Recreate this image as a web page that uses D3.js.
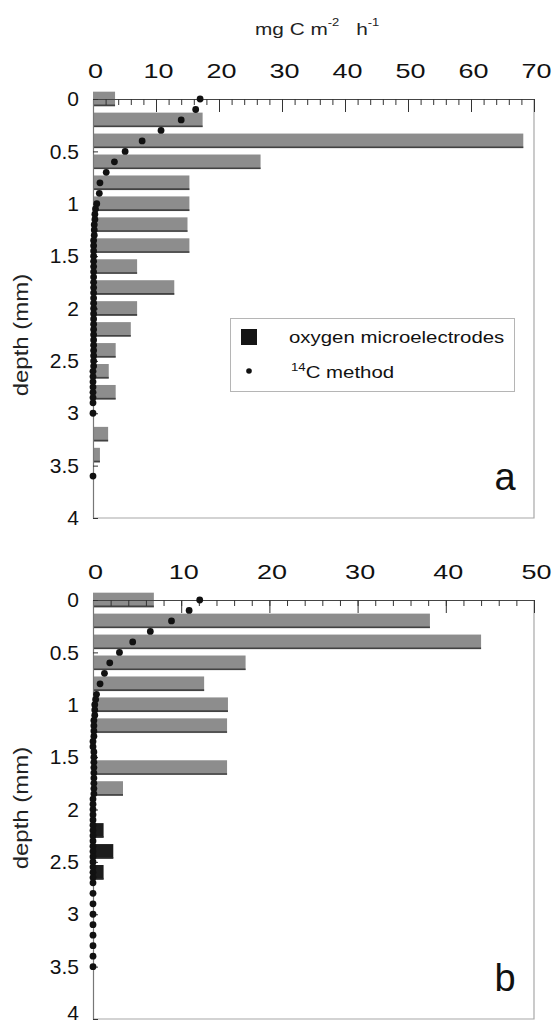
<!DOCTYPE html>
<html><head><meta charset="utf-8">
<script src="https://cdn.jsdelivr.net/npm/d3@7"></script>
<style>
html,body{margin:0;padding:0;background:#fff;}
svg{display:block;font-family:"Liberation Sans",Arial,Helvetica,sans-serif;}
</style></head>
<body>
<svg id="chart" width="554" height="1024"></svg>
<script>
// ---------- DATA ----------
const xTicksA = [0,10,20,30,40,50,60,70];
const xTicksB = [0,10,20,30,40,50];
const yTicks = [0,0.5,1,1.5,2,2.5,3,3.5,4];

// panel a : oxygen microelectrodes (bars)
const barDepthA = [0,0.2,0.4,0.6,0.8,1.0,1.2,1.4,1.6,1.8,2.0,2.2,2.4,2.6,2.8,3.0,3.2,3.4];
const barValA   = [3.5,17.4,68.3,26.6,15.3,15.3,15.0,15.3,7.0,12.9,7.0,6.0,3.6,2.5,3.6,0,2.4,1.1];
// panel a : 14C method (dots)
const dotDepthA = [0,0.1,0.2,0.3,0.4,0.5,0.6,0.7,0.8,0.9,1.0,
  1.05,1.1,1.15,1.2,1.25,1.3,1.35,1.4,1.45,1.5,1.55,1.6,1.65,1.7,1.75,1.8,1.85,1.9,1.95,2.0,
  2.05,2.1,2.15,2.2,2.25,2.3,2.35,2.4,2.45,2.5,2.55,2.6,2.65,2.7,2.75,2.8,2.85,2.9,3.0,3.6];
const dotValA = [17.0,16.3,14.0,10.8,7.8,5.1,3.4,2.1,1.1,1.0,0.6,
  0.4,0.3,0.3,0.2,0.2,0.2,0.1,0.1,0.1,0.1,0.1,0.1,0.1,0.1,0.1,0.1,0.1,0.1,0.1,0.1,
  0.1,0.1,0.1,0.1,0.1,0.1,0.1,0.1,0.1,0.1,0.1,0,0,0,0,0,0,0,0,0];

// panel b : oxygen microelectrodes (bars)
const barDepthB = [0,0.2,0.4,0.6,0.8,1.0,1.2,1.4,1.6,1.8,2.0,2.2,2.4,2.6];
const barValB   = [6.9,38.2,44.0,17.3,12.6,15.3,15.2,0,15.2,3.4,0,1.2,2.3,1.2];
// panel b : 14C method (dots)
const dotDepthB = [0,0.1,0.2,0.3,0.4,0.5,0.6,0.7,0.8,0.9,
  0.95,1.0,1.05,1.1,1.15,1.2,1.25,1.3,1.35,1.4,1.45,1.5,1.55,1.6,1.65,1.7,1.75,1.8,1.85,1.9,
  1.95,2.0,2.05,2.1,2.15,2.2,2.25,2.3,2.35,2.4,2.45,2.5,2.55,2.6,2.65,2.7,
  2.8,2.9,3.0,3.1,3.2,3.3,3.4,3.5];
const dotValB = [12.1,10.9,8.9,6.5,4.5,3.0,1.9,1.3,0.8,0.4,
  0.3,0.2,0.2,0.2,0.1,0.1,0.1,0.1,0,0,0.1,0.1,0.1,0.1,0.1,0.1,0.1,0.1,0.1,0,
  0,0,0,0,0,0,0,0,0,0,0,0,0,0,0,0,
  0,0,0,0,0,0,0,0];

const seriesNames = ["oxygen microelectrodes","14C method"];
const panelLetters = ["a","b"];

// ---------- DRAW ----------
const svg = d3.select("#chart");
const L = 93, R = 534, PH = 419;
const FONT = "'Liberation Sans',Arial,Helvetica,sans-serif";

// title (horizontally stretched like the original typeface)
const title = svg.append("text").attr("transform","translate(255,35) scale(1.3,1)")
  .attr("font-size",16).attr("fill","#222");
title.append("tspan").text("mg C m");
title.append("tspan").attr("font-size",10).attr("dy",-9).text("-2");
title.append("tspan").attr("dy",9).attr("dx",13).text("h");
title.append("tspan").attr("font-size",10).attr("dy",-9).text("-1");

function panel(top, xMax, xTicks, barDepth, barVal, dotDepth, dotVal, letter, labelY, legend, darkFrom) {
  const x = d3.scaleLinear().domain([0,xMax]).range([L,R]);
  const y = d3.scaleLinear().domain([0,4]).range([top, top+PH]);
  const g = svg.append("g");

  // frame (right, bottom)
  g.append("path").attr("d",`M${L},${top+PH}H${R}V${top}`)
    .attr("fill","none").attr("stroke","#a8a8a8").attr("stroke-width",1.2);

  // bars
  const bh = y(0.14) - y(0);
  const bars = g.append("g");
  barDepth.forEach((d,i) => {
    if (barVal[i] <= 0) return;
    const dark = darkFrom !== null && d >= darkFrom;
    bars.append("rect").attr("x",x(0)).attr("y",y(d)-bh/2)
      .attr("width",x(barVal[i])-x(0)).attr("height",bh).attr("fill",dark ? "#1c1c1c" : "#8d8d8d");
    bars.append("line").attr("x1",x(0)).attr("x2",x(barVal[i]))
      .attr("y1",y(d)+bh/2-1).attr("y2",y(d)+bh/2-1)
      .attr("stroke","#2a2a2a").attr("stroke-width",1.6).attr("opacity",0.75);
  });

  // top axis: minor ticks
  const minor = d3.axisTop(x).tickValues(d3.range(0,xMax+1,2)).tickSize(-6).tickFormat("").tickSizeOuter(0);
  const gm = g.append("g").attr("transform",`translate(0,${top})`).call(minor);
  gm.select(".domain").attr("stroke","#444").attr("stroke-width",1.2);
  gm.selectAll(".tick line").attr("stroke","#333");
  // top axis: major ticks + labels
  const major = d3.axisTop(x).tickValues(xTicks).tickSize(-13).tickPadding(21).tickSizeOuter(0).tickFormat(d3.format("d"));
  const gM = g.append("g").attr("transform",`translate(0,${top})`).call(major);
  gM.select(".domain").remove();
  gM.selectAll(".tick line").attr("stroke","#333");
  gM.selectAll(".tick text").attr("font-size",20).attr("dx",1.5)
    .attr("transform","scale(1.35,1)")
    .attr("fill","#111").style("font-family",FONT);

  // left axis
  const ya = d3.axisLeft(y).tickValues(yTicks).tickSize(-5).tickPadding(14).tickSizeOuter(0).tickFormat(d3.format(""));
  const gy = g.append("g").attr("transform",`translate(${L},0)`).call(ya);
  gy.select(".domain").attr("stroke","#777").attr("stroke-width",1.2);
  gy.selectAll(".tick line").attr("stroke","#333");
  gy.selectAll(".tick text").attr("font-size",21).attr("fill","#111")
    .style("font-family",FONT)
    .attr("dy", d => (top + PH + 8 > 1024 && d === 4) ? "0em" : "0.32em");

  // dots
  g.append("g").selectAll("circle").data(dotDepth).join("circle")
    .attr("cx",(d,i)=>x(dotVal[i])).attr("cy",d=>y(d)).attr("r",3.4).attr("fill","#111");

  // y label
  g.append("text").attr("transform",`translate(28,${labelY}) rotate(-90) scale(1.2,1)`)
    .attr("text-anchor","middle").attr("font-size",20).attr("fill","#222")
    .text("depth (mm)");

  // panel letter
  g.append("text").attr("x",505).attr("y",top+PH-28).attr("text-anchor","middle")
    .attr("font-size",38).attr("fill","#111").text(letter);

  if (legend) {
    const lg = g.append("g");
    lg.append("rect").attr("x",230.5).attr("y",318.5).attr("width",284).attr("height",73)
      .attr("fill","#fff").attr("stroke","#b5b5b5").attr("stroke-width",1);
    lg.append("rect").attr("x",241).attr("y",329).attr("width",16).attr("height",16).attr("fill","#151515");
    lg.append("text").attr("transform","translate(289,343) scale(1.2,1)").attr("font-size",17)
      .attr("fill","#111").text(seriesNames[0]);
    lg.append("circle").attr("cx",249).attr("cy",371).attr("r",2.8).attr("fill","#111");
    const t2 = lg.append("text").attr("transform","translate(291,378) scale(1.2,1)").attr("font-size",17).attr("fill","#111");
    t2.append("tspan").attr("font-size",11).attr("dy",-7).text("14");
    t2.append("tspan").attr("dy",7).text("C method");
  }
}

panel(99, 70, xTicksA, barDepthA, barValA, dotDepthA, dotValA, panelLetters[0], 335, true, null);
panel(600, 50, xTicksB, barDepthB, barValB, dotDepthB, dotValB, panelLetters[1], 808, false, 2.1);
</script>
</body></html>
